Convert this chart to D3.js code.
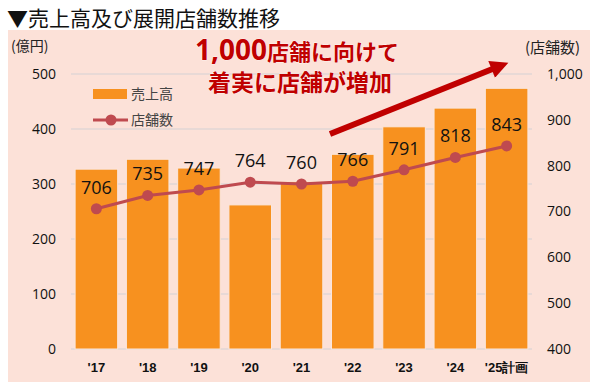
<!DOCTYPE html>
<html>
<head>
<meta charset="utf-8">
<script src="https://cdn.jsdelivr.net/npm/d3@7"></script>
<style>
  body { margin: 0; background: #fff; }
  svg { display: block; font-family: "Noto Sans CJK JP", "Noto Sans", sans-serif; }
</style>
</head>
<body>
<svg id="chart" width="600" height="389"></svg>
<script>
// data
let years = ["'17", "'18", "'19", "'20", "'21", "'22", "'23", "'24", "'25計画"]
let sales = [327, 345, 329, 262, 304, 354, 404, 438, 474]   // 億円
let stores = [706, 735, 747, 764, 760, 766, 791, 818, 843]  // 店舗数
let sales_ticks = [0, 100, 200, 300, 400, 500]
let store_ticks = [400, 500, 600, 700, 800, 900, 1000]

let svg = d3.select("#chart")
let margin = {top: 74, bottom: 349, left: 71, right: 532}

// title and panel
svg.append("text")
  .attr("x", 7).attr("y", 26)
  .style("font-size", "21px")
  .attr("fill", "#111")
  .text("▼売上高及び展開店舗数推移")

svg.append("rect")
  .attr("x", 8).attr("y", 30).attr("width", 582).attr("height", 352)
  .attr("fill", "#fce1d8")

function make_scales() {
  return {
    x: d3.scaleBand().domain(years).range([margin.left, margin.right]).paddingInner(0.17).paddingOuter(0.08),
    y: d3.scaleLinear().domain([0, 500]).range([margin.bottom, margin.top]),
    y2: d3.scaleLinear().domain([400, 1000]).range([margin.bottom, margin.top])
  }
}

function draw_axes(s) {
  svg.append("g").selectAll("line")
    .data(sales_ticks).enter()
    .append("line")
    .attr("x1", margin.left).attr("x2", margin.right)
    .attr("y1", d => s.y(d)).attr("y2", d => s.y(d))
    .attr("stroke", "#e2d6d6").attr("stroke-width", 1.5)

  let left = d3.axisLeft(s.y).tickValues(sales_ticks).tickSize(0).tickPadding(0)
  svg.append("g")
    .attr("transform", "translate(56,0)")
    .call(left)
    .call(g => g.select(".domain").remove())
    .selectAll("text")
    .style("font-size", "14px").style("font-weight", 500).attr("fill", "#111")
    .style("font-family", "'Open Sans', sans-serif")

  let right = d3.axisRight(s.y2).tickValues(store_ticks).tickSize(0).tickPadding(0)
    .tickFormat(d3.format(","))
  svg.append("g")
    .attr("transform", "translate(547,0)")
    .call(right)
    .call(g => g.select(".domain").remove())
    .selectAll("text")
    .style("font-size", "14px").style("font-weight", 500).attr("fill", "#111")
    .style("font-family", "'Open Sans', sans-serif")

  let bottom = d3.axisBottom(s.x).tickSize(0).tickPadding(0)
  svg.append("g")
    .attr("transform", "translate(0,363)")
    .call(bottom)
    .call(g => g.select(".domain").remove())
    .selectAll("text")
    .style("font-size", "13px").style("font-weight", 600).attr("fill", "#111")

  svg.append("text").attr("x", 11).attr("y", 51)
    .style("font-size", "14px").attr("fill", "#222").text("(億円)")
  svg.append("text").attr("x", 525).attr("y", 53)
    .style("font-size", "15px").attr("fill", "#222").text("(店舗数)")
}

function draw_bars(s) {
  svg.append("g").selectAll("rect")
    .data(sales).enter()
    .append("rect")
    .attr("x", (d, i) => s.x(years[i]))
    .attr("width", s.x.bandwidth())
    .attr("y", d => s.y(d))
    .attr("height", d => s.y(0) - s.y(d))
    .attr("fill", "#f7911f")
    .attr("stroke", "#fbe6dc").attr("stroke-width", 1)
}

function draw_line(s) {
  let cx = i => s.x(years[i]) + s.x.bandwidth() / 2
  let line = d3.line().x((d, i) => cx(i)).y(d => s.y2(d))
  svg.append("path")
    .datum(stores)
    .attr("d", line)
    .attr("fill", "none").attr("stroke", "#bf4a4f").attr("stroke-width", 3)

  svg.append("g").selectAll("circle")
    .data(stores).enter()
    .append("circle")
    .attr("cx", (d, i) => cx(i)).attr("cy", d => s.y2(d)).attr("r", 5.5)
    .attr("fill", "#bf4a4f")

  svg.append("g").selectAll("text")
    .data(stores).enter()
    .append("text")
    .attr("x", (d, i) => cx(i)).attr("y", d => s.y2(d) - 15)
    .attr("text-anchor", "middle")
    .style("font-size", "18px").style("font-family", "'Open Sans', sans-serif")
    .attr("fill", "#111")
    .text(d => d)
}

function draw_legend() {
  let g = svg.append("g")
  g.append("rect").attr("x", 93).attr("y", 89).attr("width", 34).attr("height", 10).attr("fill", "#f7911f")
  g.append("text").attr("x", 131).attr("y", 99).style("font-size", "14px").attr("fill", "#444").text("売上高")
  g.append("line").attr("x1", 93).attr("x2", 128).attr("y1", 120).attr("y2", 120)
    .attr("stroke", "#bf4a4f").attr("stroke-width", 3)
  g.append("circle").attr("cx", 111).attr("cy", 120).attr("r", 5.5).attr("fill", "#bf4a4f")
  g.append("text").attr("x", 131).attr("y", 125).style("font-size", "14px").attr("fill", "#444").text("店舗数")
}

function draw_callout() {
  let red = "#c00000"
  let t = svg.append("text").attr("x", 297).attr("y", 60).attr("text-anchor", "middle")
    .attr("fill", red).style("font-weight", 700)
    .attr("stroke", "#fff").attr("stroke-width", 0.6).attr("paint-order", "stroke")
  t.append("tspan").style("font-size", "28px").style("font-family", "'Open Sans', sans-serif").text("1,000")
  t.append("tspan").style("font-size", "22px").text("店舗に向けて")
  svg.append("text").attr("x", 300).attr("y", 91).attr("text-anchor", "middle")
    .attr("fill", red).style("font-weight", 700).style("font-size", "23px")
    .attr("stroke", "#fff").attr("stroke-width", 0.6).attr("paint-order", "stroke")
    .text("着実に店舗が増加")

  // arrow
  svg.append("defs").append("marker")
    .attr("id", "head").attr("viewBox", "0 0 10 10")
    .attr("refX", 2).attr("refY", 5)
    .attr("markerWidth", 3.3).attr("markerHeight", 3).attr("orient", "auto")
    .append("path").attr("d", "M0,0 L10,5 L0,10 z").attr("fill", red)
  svg.append("line")
    .attr("x1", 330).attr("y1", 134).attr("x2", 495).attr("y2", 68)
    .attr("stroke", red).attr("stroke-width", 6)
    .attr("marker-end", "url(#head)")
}

let scales = make_scales()
draw_axes(scales)
draw_bars(scales)
draw_line(scales)
draw_legend()
draw_callout()
</script>
</body>
</html>
